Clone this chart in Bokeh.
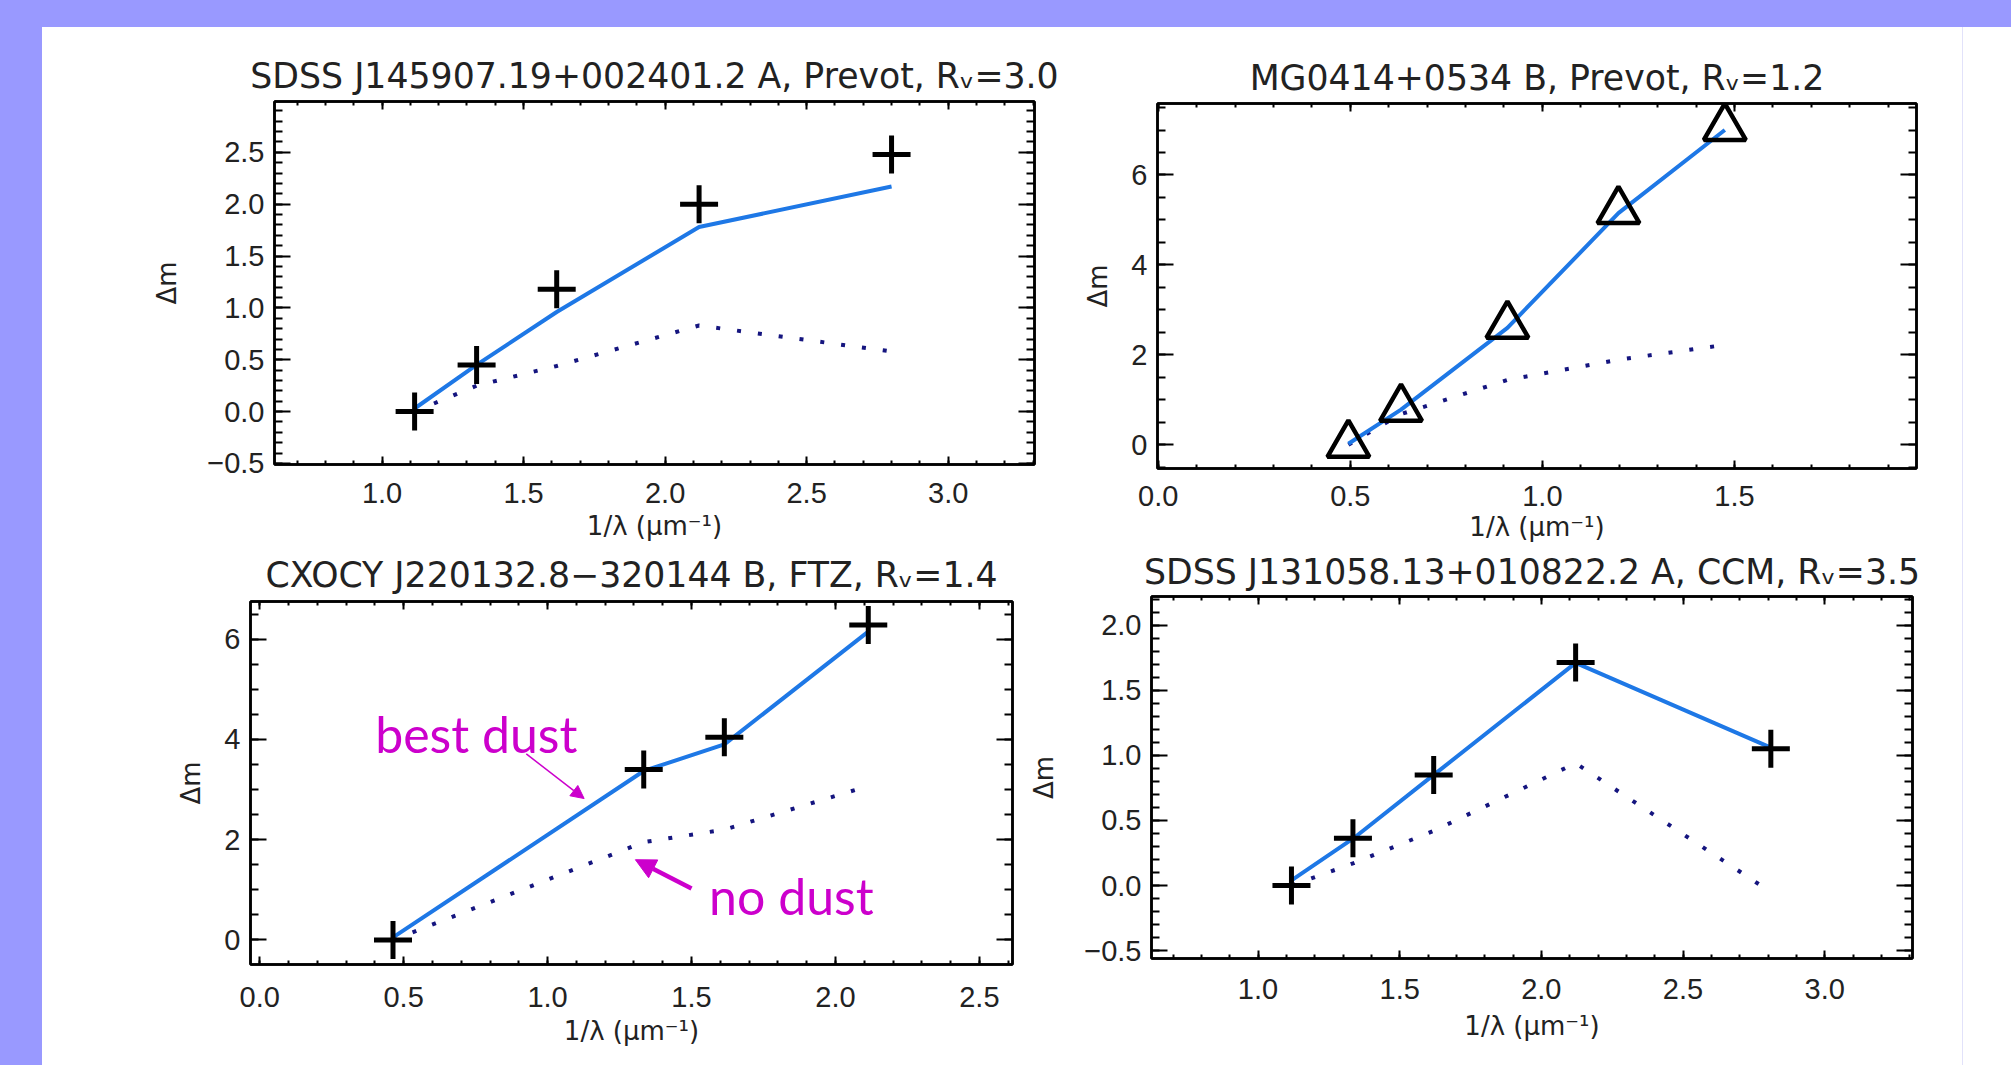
import numpy as np
from bokeh.plotting import figure
from bokeh.models import (Range1d, LinearAxis, FixedTicker, Label, Arrow,
                          NormalHead, Spacer)
from bokeh.layouts import row, column
from bokeh.embed import file_html
from bokeh.resources import INLINE

# ---------------- data ----------------
xlabel_text = "1/\u03bb (\u03bcm\u207b\u00b9)"
ylabel_text = "\u0394m"

# Panel 1 (top-left)
p1_title = "SDSS J145907.19+002401.2 A, Prevot, R\u1d65=3.0"
p1_x = [1.115, 1.334, 1.617, 2.12, 2.80]
p1_obs = [0.0, 0.45, 1.18, 2.0, 2.48]
p1_dust = [0.03, 0.45, 0.96, 1.78, 2.17]
p1_nodust = [0.0, 0.25, 0.44, 0.83, 0.58]
p1_xticks = [1.0, 1.5, 2.0, 2.5, 3.0]
p1_xticklabels = ["1.0", "1.5", "2.0", "2.5", "3.0"]
p1_yticks = [-0.5, 0.0, 0.5, 1.0, 1.5, 2.0, 2.5]
p1_yticklabels = ["\u22120.5", "0.0", "0.5", "1.0", "1.5", "2.0", "2.5"]

# Panel 2 (top-right)
p2_title = "MG0414+0534 B, Prevot, R\u1d65=1.2"
p2_x = [0.495, 0.632, 0.909, 1.198, 1.475]
p2_obs = [0.0, 0.8, 2.65, 5.2, 7.05]
p2_dust = [0.02, 0.78, 2.6, 5.15, 7.0]
p2_nodust = [0.0, 0.68, 1.44, 1.89, 2.22]
p2_xticks = [0.0, 0.5, 1.0, 1.5]
p2_xticklabels = ["0.0", "0.5", "1.0", "1.5"]
p2_yticks = [0, 2, 4, 6]
p2_yticklabels = ["0", "2", "4", "6"]

# Panel 3 (bottom-left)
p3_title = "CXOCY J220132.8\u2212320144 B, FTZ, R\u1d65=1.4"
p3_x = [0.463, 1.334, 1.614, 2.114]
p3_obs = [0.0, 3.40, 4.04, 6.28]
p3_dust = [0.05, 3.37, 3.9, 6.15]
p3_nodust = [0.0, 1.95, 2.20, 3.07]
p3_xticks = [0.0, 0.5, 1.0, 1.5, 2.0, 2.5]
p3_xticklabels = ["0.0", "0.5", "1.0", "1.5", "2.0", "2.5"]
p3_yticks = [0, 2, 4, 6]
p3_yticklabels = ["0", "2", "4", "6"]

# Panel 4 (bottom-right)
p4_title = "SDSS J131058.13+010822.2 A, CCM, R\u1d65=3.5"
p4_x = [1.118, 1.335, 1.62, 2.121, 2.81]
p4_obs = [0.0, 0.364, 0.849, 1.714, 1.05]
p4_dust = [0.04, 0.36, 0.85, 1.71, 1.06]
p4_nodust = [0.0, 0.17, 0.42, 0.94, -0.05]
p4_xticks = [1.0, 1.5, 2.0, 2.5, 3.0]
p4_xticklabels = ["1.0", "1.5", "2.0", "2.5", "3.0"]
p4_yticks = [-0.5, 0.0, 0.5, 1.0, 1.5, 2.0]
p4_yticklabels = ["\u22120.5", "0.0", "0.5", "1.0", "1.5", "2.0"]

# annotations (panel 3)
note_best = "best dust"
note_none = "no dust"

# ---------------- style ----------------
BLUE = "#1E78E6"
NAVY = "#15157F"
MAG = "#CC00CC"
LAVENDER = "#9999FF"
TICK_FONT = "Liberation Sans"
TEXT_FONT = "DejaVu Sans"


def minor_positions(lo, hi, step):
    n0 = int(np.ceil(lo / step - 1e-9))
    n1 = int(np.floor(hi / step + 1e-9))
    return [round(k * step, 6) for k in range(n0, n1 + 1)]


def setup_axis(ax, ticks, labels, minor, tick_major, tick_minor, show, standoff):
    ax.ticker = FixedTicker(ticks=ticks, minor_ticks=minor)
    ax.major_tick_in = tick_major
    ax.major_tick_out = 0
    ax.minor_tick_in = tick_minor
    ax.minor_tick_out = 0
    ax.major_tick_line_width = 2
    ax.minor_tick_line_width = 2
    ax.major_tick_line_color = "black"
    ax.minor_tick_line_color = "black"
    ax.axis_line_width = 2.5
    ax.axis_line_color = "black"
    if show:
        ax.major_label_overrides = {t: l for t, l in zip(ticks, labels)}
        ax.major_label_text_font = TICK_FONT
        ax.major_label_text_font_size = "29px"
        ax.major_label_text_color = "#222222"
        ax.major_label_standoff = standoff
    else:
        ax.major_label_overrides = {t: "" for t in ticks}
        ax.major_label_standoff = 0
        ax.major_label_text_font_size = "1px"


def make_panel(title, xr, yr, xticks, xlabels, yticks, ylabels, xminor, yminor,
               width, height, mb_left, mb_right, mb_top, mb_bottom,
               title_standoff, xtick_standoff, xlabel_standoff, ylabel_standoff):
    p = figure(width=width, height=height, x_range=Range1d(*xr), y_range=Range1d(*yr),
               output_backend="svg", toolbar_location=None,
               min_border_left=mb_left, min_border_right=mb_right,
               min_border_top=mb_top, min_border_bottom=mb_bottom,
               background_fill_color="white", border_fill_color="white")
    p.outline_line_color = "black"
    p.outline_line_width = 2.5
    p.xgrid.visible = False
    p.ygrid.visible = False

    xmin = minor_positions(xr[0], xr[1], xminor)
    ymin = minor_positions(yr[0], yr[1], yminor)

    bottom = p.below[0]
    left = p.left[0]
    setup_axis(bottom, xticks, xlabels, xmin, 8, 4, True, xtick_standoff)
    setup_axis(left, yticks, ylabels, ymin, 16, 8, True, 10)
    top = LinearAxis()
    right = LinearAxis()
    setup_axis(top, xticks, xlabels, xmin, 8, 4, False, 0)
    setup_axis(right, yticks, ylabels, ymin, 16, 8, False, 0)
    p.add_layout(top, "above")
    p.add_layout(right, "right")

    bottom.axis_label = xlabel_text
    left.axis_label = ylabel_text
    for ax, so in ((bottom, xlabel_standoff), (left, ylabel_standoff)):
        ax.axis_label_text_font = TEXT_FONT
        ax.axis_label_text_font_size = "26px"
        ax.axis_label_text_font_style = "normal"
        ax.axis_label_text_color = "#222222"
        ax.axis_label_standoff = so

    p.title.text = title
    p.title.text_font = TEXT_FONT
    p.title.text_font_size = "34.7px"
    p.title.text_font_style = "normal"
    p.title.text_color = "#222222"
    p.title.align = "center"
    p.title.standoff = title_standoff
    return p


def draw(p, x, obs, dust, nodust, marker):
    p.line(x, nodust, line_color=NAVY, line_width=4, line_dash="4 17")
    p.line(x, dust, line_color=BLUE, line_width=4)
    if marker == "triangle":
        p.scatter(x, obs, marker="triangle", size=42, fill_color=None,
                  line_color="black", line_width=4.5)
    else:
        p.scatter(x, obs, marker="cross", size=38, line_color="black", line_width=5)


# top row: y 27 -> 544 ; bottom row: y 544 -> 1065
p1 = make_panel(p1_title, (0.62, 3.305), (-0.51, 2.99), p1_xticks, p1_xticklabels,
                p1_yticks, p1_yticklabels, 0.1, 0.1,
                width=1023, height=517, mb_left=232, mb_right=31, mb_top=74, mb_bottom=80,
                title_standoff=12, xtick_standoff=18, xlabel_standoff=5, ylabel_standoff=22)
draw(p1, p1_x, p1_obs, p1_dust, p1_nodust, "cross")

p2 = make_panel(p2_title, (-0.002, 1.974), (-0.53, 7.59), p2_xticks, p2_xticklabels,
                p2_yticks, p2_yticklabels, 0.1, 0.5,
                width=897, height=517, mb_left=92, mb_right=46, mb_top=76, mb_bottom=75,
                title_standoff=11, xtick_standoff=17, xlabel_standoff=3, ylabel_standoff=15)
draw(p2, p2_x, p2_obs, p2_dust, p2_nodust, "triangle")

p3 = make_panel(p3_title, (-0.032, 2.615), (-0.49, 6.75), p3_xticks, p3_xticklabels,
                p3_yticks, p3_yticklabels, 0.1, 0.5,
                width=983, height=521, mb_left=208, mb_right=13, mb_top=57, mb_bottom=101,
                title_standoff=13, xtick_standoff=22, xlabel_standoff=6, ylabel_standoff=15)
draw(p3, p3_x, p3_obs, p3_dust, p3_nodust, "cross")

p4 = make_panel(p4_title, (0.624, 3.31), (-0.56, 2.22), p4_xticks, p4_xticklabels,
                p4_yticks, p4_yticklabels, 0.1, 0.1,
                width=937, height=521, mb_left=126, mb_right=50, mb_top=50, mb_bottom=107,
                title_standoff=10, xtick_standoff=20, xlabel_standoff=9, ylabel_standoff=22)
draw(p4, p4_x, p4_obs, p4_dust, p4_nodust, "cross")

# annotations on panel 3
p3.add_layout(Label(x=0.401, y=3.505, text=note_best, text_font="Lato",
                    text_font_size="50px", text_color=MAG, text_baseline="bottom"))
p3.add_layout(Label(x=1.561, y=0.28, text=note_none, text_font="Lato",
                    text_font_size="50px", text_color=MAG, text_baseline="bottom"))
p3.add_layout(Arrow(end=NormalHead(size=13, fill_color=MAG, line_color=MAG),
                    x_start=0.926, y_start=3.71, x_end=1.127, y_end=2.82,
                    line_color=MAG, line_width=1.5))
p3.add_layout(Arrow(end=NormalHead(size=20, fill_color=MAG, line_color=MAG),
                    x_start=1.50, y_start=1.025, x_end=1.305, y_end=1.60,
                    line_color=MAG, line_width=4.5))

# each figure is wrapped on its own so that neighbouring frames are not aligned
grid = column(row(column(p1), column(p2), spacing=0),
              row(column(p3), column(p4), spacing=0), spacing=0)
content = row(grid,
              Spacer(width=1, height=1038, styles={"background-color": "#E2E2FA"}),
              Spacer(width=48, height=1038, styles={"background-color": "white"}),
              spacing=0, styles={"background-color": "white"})
root = column(Spacer(width=2011, height=27),
              row(Spacer(width=42, height=1038), content, spacing=0),
              spacing=0, styles={"background-color": LAVENDER})

open("out.html", "w").write(file_html(root, INLINE))
